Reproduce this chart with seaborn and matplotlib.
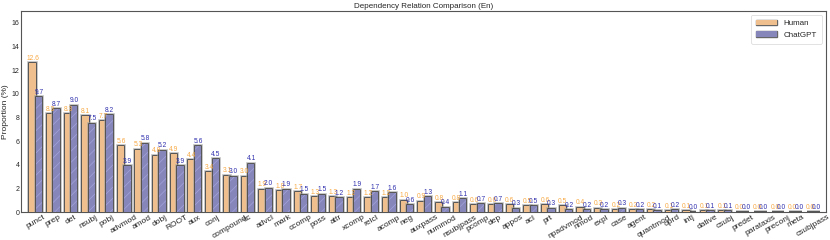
import matplotlib
matplotlib.use("Agg")
import matplotlib.pyplot as plt
import matplotlib.patheffects as pe
import pandas as pd
import seaborn as sns

relations = [
    "punct", "prep", "det", "nsubj", "pobj", "advmod", "amod", "dobj", "ROOT",
    "aux", "conj", "compound", "cc", "advcl", "mark", "ccomp", "poss", "attr",
    "xcomp", "relcl", "acomp", "neg", "auxpass", "nummod", "nsubjpass", "pcomp",
    "dep", "appos", "acl", "prt", "npadvmod", "nmod", "expl", "case", "agent",
    "quantmod", "oprd", "intj", "dative", "csubj", "predet", "parataxis",
    "preconj", "meta", "csubjpass",
]
human = [
    12.6, 8.3, 8.3, 8.1, 7.7, 5.6, 5.3, 4.8, 4.9, 4.4, 3.4, 3.1, 3.0, 1.9, 1.8,
    1.7, 1.3, 1.3, 1.2, 1.2, 1.2, 1.0, 0.9, 0.8, 0.8, 0.6, 0.6, 0.6, 0.5, 0.6,
    0.5, 0.4, 0.3, 0.2, 0.2, 0.2, 0.1, 0.1, 0.1, 0.1, 0.0, 0.0, 0.0, 0.0, 0.0,
]
chatgpt = [
    9.7, 8.7, 9.0, 7.5, 8.2, 3.9, 5.8, 5.2, 3.9, 5.6, 4.5, 3.0, 4.1, 2.0, 1.9,
    1.5, 1.5, 1.2, 1.9, 1.7, 1.6, 0.6, 1.3, 0.4, 1.1, 0.7, 0.7, 0.3, 0.5, 0.3,
    0.2, 0.2, 0.2, 0.3, 0.2, 0.1, 0.2, 0.0, 0.1, 0.1, 0.0, 0.0, 0.0, 0.0, 0.0,
]
sources = ["Human", "ChatGPT"]

df = pd.DataFrame({
    "relation": relations * 2,
    "proportion": human + chatgpt,
    "source": ["Human"] * len(relations) + ["ChatGPT"] * len(relations),
})

sns.set_theme(style="white")
plt.rcParams["font.family"] = ["Liberation Sans", "DejaVu Sans"]
plt.rcParams["hatch.linewidth"] = 0.5

fig, ax = plt.subplots(figsize=(8.3, 2.4), dpi=100)
sns.barplot(
    data=df, x="relation", y="proportion", hue="source", hue_order=sources,
    order=relations, palette=["#ffc07e", "#7d7dc4"], edgecolor="#3a3a3a",
    linewidth=0, width=0.72, gap=0.0, ax=ax, zorder=3,
)

# gray halo + dark outline drawn as path effects, so the hatch can stay light
effects = [
    pe.Stroke(linewidth=2.6, foreground="#a0a0a0", alpha=0.7),
    pe.Stroke(linewidth=1.1, foreground="#3a3a3a"),
    pe.Normal(),
]
text_colors = ["#f7a944", "#2f2fae"]
for cont, col in zip(ax.containers, text_colors):
    for p in cont.patches:
        p.set_path_effects(effects)
    ax.bar_label(cont, fmt="%.1f", fontsize=4.8, color=col, padding=1)
for p in ax.containers[1].patches:
    p.set_edgecolor("#a3a3dc")
    p.set_linewidth(0)
    p.set_hatch("///")

ax.set_ylim(0, max(human + chatgpt) * 1.35)
ax.set_xlim(-0.85, len(relations) - 0.3)
ax.set_title("Dependency Relation Comparison (En)", fontsize=5.8, pad=2)
ax.set_xlabel("")
ax.set_ylabel("Proportion (%)", fontsize=6, labelpad=2)
ax.tick_params(axis="y", labelsize=5, pad=1, length=0)
ax.tick_params(axis="x", labelsize=6, pad=1, length=0)
plt.setp(ax.get_xticklabels(), rotation=30, ha="center")
for s in ax.spines.values():
    s.set_color("#555555")
    s.set_linewidth(0.8)

leg = ax.legend(loc="upper right", fontsize=5.8, frameon=True, borderpad=0.6,
                handlelength=2.6, labelspacing=0.5)
leg.get_frame().set_edgecolor("#cccccc")
leg.get_frame().set_linewidth(0.5)
for h in leg.legend_handles:
    h.set_path_effects([pe.Stroke(linewidth=1.0, foreground="#666666"), pe.Normal()])

fig.subplots_adjust(left=0.025, right=0.995, top=0.955, bottom=0.115)
fig.savefig("out.png", dpi=100)
